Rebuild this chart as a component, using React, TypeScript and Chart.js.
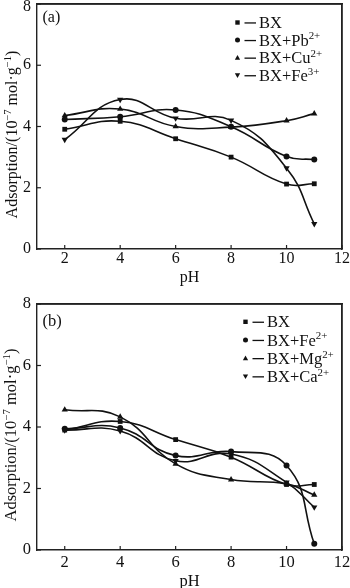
import React, { useEffect, useRef } from 'react';
import { Chart, registerables } from 'chart.js';

Chart.register(...registerables);

// ---------- data ----------
const pH = [2, 4, 6, 8, 10, 11];
const xTicks = [2, 4, 6, 8, 10, 12];
const yTicks = [0, 2, 4, 6, 8];

const aBX = [3.91, 4.17, 3.6, 3.0, 2.12, 2.13];
const aPb = [4.23, 4.32, 4.54, 3.99, 3.02, 2.92];
const aCu = [4.36, 4.57, 4.0, 3.98, 4.19, 4.42];
const aFe3 = [3.57, 4.88, 4.27, 4.2, 2.64, 0.82];

const bBX = [3.9, 4.18, 3.59, 3.02, 2.13, 2.13];
const bFe2 = [3.94, 3.97, 3.07, 3.2, 2.75, 0.2];
const bMg = [4.56, 4.33, 2.8, 2.29, 2.15, 1.79];
const bCa = [3.9, 3.87, 2.9, 3.12, 2.2, 1.39];

const aNames = [['BX', ''], ['BX+Pb', '2+'], ['BX+Cu', '2+'], ['BX+Fe', '3+']];
const bNames = [['BX', ''], ['BX+Fe', '2+'], ['BX+Mg', '2+'], ['BX+Ca', '2+']];

const markerStyles = ['rect', 'circle', 'triangle', 'triangleDown'];

const FONT = "'Liberation Serif', 'Times New Roman', serif";
const INK = '#111111';
const FRAME = '#222222';

type Geo = {
  width: number;
  height: number;
  top: number;
  bottom: number;
  left: number;
  right: number;
  fs: number;
  xLabelDy: number;
  xTitleDy: number;
  panel: string;
  panelX: number;
  panelY: number;
  titleX: number;
  titleDy: number;
  legX: number;
  legY: number;
  legStep: number;
};

const geoA: Geo = {
  width: 350, height: 290, top: 2, bottom: 249, left: 37, right: 342, fs: 16,
  xLabelDy: 10, xTitleDy: 32.5, panel: '(a)', panelX: 42.5, panelY: 17.5,
  titleX: 11.5, titleDy: 8, legX: 237.5, legY: 22.5, legStep: 17.6,
};
const geoB: Geo = {
  width: 350, height: 298, top: 14, bottom: 260, left: 37, right: 342, fs: 16.5,
  xLabelDy: 12.5, xTitleDy: 36, panel: '(b)', panelX: 42.5, panelY: 31.5,
  titleX: 11, titleDy: 8, legX: 245.5, legY: 31.8, legStep: 18.2,
};

function drawMarker(ctx: CanvasRenderingContext2D, style: string, x: number, y: number, s: number) {
  ctx.beginPath();
  if (style === 'rect') {
    ctx.rect(x - s / 2, y - s / 2, s, s);
  } else if (style === 'circle') {
    ctx.arc(x, y, s / 2 + 0.3, 0, Math.PI * 2);
  } else if (style === 'triangle') {
    ctx.moveTo(x, y - s * 0.6);
    ctx.lineTo(x + s * 0.6, y + s * 0.45);
    ctx.lineTo(x - s * 0.6, y + s * 0.45);
    ctx.closePath();
  } else {
    ctx.moveTo(x, y + s * 0.6);
    ctx.lineTo(x + s * 0.6, y - s * 0.45);
    ctx.lineTo(x - s * 0.6, y - s * 0.45);
    ctx.closePath();
  }
  ctx.fill();
}

type Part = { t: string; sup?: boolean };

function richWidth(ctx: CanvasRenderingContext2D, parts: Part[], fs: number) {
  let w = 0;
  for (const p of parts) {
    ctx.font = `${p.sup ? fs * 0.66 : fs}px ${FONT}`;
    w += ctx.measureText(p.t).width;
  }
  return w;
}

function drawRich(ctx: CanvasRenderingContext2D, parts: Part[], x: number, y: number, fs: number) {
  let cx = x;
  ctx.textAlign = 'left';
  ctx.textBaseline = 'alphabetic';
  for (const p of parts) {
    const size = p.sup ? fs * 0.66 : fs;
    ctx.font = `${size}px ${FONT}`;
    ctx.fillText(p.t, cx, p.sup ? y - fs * 0.38 : y);
    cx += ctx.measureText(p.t).width;
  }
}

function makeDecor(g: Geo, names: string[][]) {
  return {
    id: 'decor',
    afterDraw(chart: any) {
      const ctx: CanvasRenderingContext2D = chart.ctx;
      const xs = chart.scales.x;
      const ys = chart.scales.y;
      const L = xs.getPixelForValue(1);
      const R = xs.getPixelForValue(12);
      const T = ys.getPixelForValue(8);
      const B = ys.getPixelForValue(0);
      ctx.save();
      ctx.globalAlpha = 1;
      ctx.globalCompositeOperation = 'source-over';
      // frame
      ctx.strokeStyle = FRAME;
      ctx.lineWidth = 1.4;
      ctx.setLineDash([]);
      ctx.beginPath();
      ctx.moveTo(L, T); ctx.lineTo(R, T);
      ctx.moveTo(R, T); ctx.lineTo(R, B);
      ctx.stroke();
      // inward ticks
      ctx.fillStyle = FRAME;
      for (const v of xTicks) {
        const px = xs.getPixelForValue(v);
        ctx.fillRect(px - 0.6, B - 4, 1.2, 4);
      }
      for (const v of yTicks) {
        const py = ys.getPixelForValue(v);
        ctx.fillRect(L, py - 0.6, 4, 1.2);
      }

      ctx.fillStyle = INK;
      // tick labels
      ctx.font = `${g.fs}px ${FONT}`;
      ctx.textBaseline = 'middle';
      ctx.textAlign = 'center';
      for (const v of xTicks) {
        ctx.fillText(String(v), xs.getPixelForValue(v), B + g.xLabelDy);
      }
      ctx.textAlign = 'right';
      for (const v of yTicks) {
        const py = Math.max(ys.getPixelForValue(v), 6.5);
        ctx.fillText(String(v), L - 6, py);
      }
      // x title
      ctx.textAlign = 'center';
      ctx.textBaseline = 'alphabetic';
      ctx.fillText('pH', (L + R) / 2, B + g.xTitleDy);
      // y title
      const title: Part[] = [
        { t: 'Adsorption/(10' }, { t: '\u22127', sup: true }, { t: ' mol\u00b7g' }, { t: '\u22121', sup: true }, { t: ')' },
      ];
      ctx.save();
      ctx.translate(g.titleX, (T + B) / 2 + g.titleDy);
      ctx.rotate(-Math.PI / 2);
      const tw = richWidth(ctx, title, g.fs);
      drawRich(ctx, title, -tw / 2, g.fs * 0.33, g.fs);
      ctx.restore();
      // panel label
      ctx.fillStyle = INK;
      ctx.font = `${g.fs}px ${FONT}`;
      ctx.textAlign = 'left';
      ctx.textBaseline = 'middle';
      ctx.fillText(g.panel, g.panelX, g.panelY);
      // legend
      names.forEach((nm, i) => {
        const y = g.legY + i * g.legStep;
        drawMarker(ctx, markerStyles[i], g.legX, y, 4.4);
        ctx.fillRect(g.legX + 7, y - 0.2, 11.5, 1.3);
        const parts: Part[] = [{ t: nm[0] }];
        if (nm[1]) parts.push({ t: nm[1], sup: true });
        drawRich(ctx, parts, g.legX + 21.5, y + 5.6, 16.5);
      });
      ctx.restore();
    },
  };
}

function mkSet(vals: number[], i: number) {
  const style = markerStyles[i];
  return {
    data: pH.map((x, k) => ({ x, y: vals[k] })),
    borderColor: INK,
    backgroundColor: INK,
    borderWidth: 1.6,
    tension: 0.45,
    fill: false,
    pointStyle: style === 'triangleDown' ? 'triangle' : style,
    rotation: style === 'triangleDown' ? 180 : 0,
    pointRadius: style === 'circle' ? 3 : style === 'rect' ? 3.4 : 3.6,
    pointBackgroundColor: INK,
    pointBorderColor: INK,
    pointBorderWidth: 0,
  };
}

function Panel({ g, series, names }: { g: Geo; series: number[][]; names: string[][] }) {
  const ref = useRef<HTMLCanvasElement>(null);
  useEffect(() => {
    if (!ref.current) return;
    const zeroPad = (s: any) => { s.paddingLeft = 0; s.paddingRight = 0; s.paddingTop = 0; s.paddingBottom = 0; };
    const borderOpt = { display: true, color: FRAME, width: 1.4 };
    const chart = new Chart(ref.current, {
      type: 'line',
      data: { datasets: series.map((s, i) => mkSet(s, i)) as any },
      options: {
        responsive: false,
        animation: false,
        devicePixelRatio: 1,
        layout: { padding: { top: g.top, right: g.width - g.right, left: 0, bottom: 0 } },
        plugins: { legend: { display: false }, tooltip: { enabled: false } },
        scales: {
          x: {
            type: 'linear',
            position: 'bottom',
            min: 1,
            max: 12,
            grid: { display: false, drawTicks: false },
            border: borderOpt,
            ticks: { display: false },
            afterBuildTicks: (s: any) => { s.ticks = xTicks.map((v) => ({ value: v })); },
            afterFit: (s: any) => { s.height = g.height - g.bottom; zeroPad(s); },
          },
          x2: {
            type: 'linear',
            position: 'top',
            min: 1,
            max: 12,
            grid: { display: false, drawTicks: false },
            border: borderOpt,
            ticks: { display: false },
            afterFit: (s: any) => { s.height = 0; zeroPad(s); },
          },
          y: {
            type: 'linear',
            position: 'left',
            min: 0,
            max: 8,
            grid: { display: false, drawTicks: false },
            border: borderOpt,
            ticks: { display: false },
            afterBuildTicks: (s: any) => { s.ticks = yTicks.map((v) => ({ value: v })); },
            afterFit: (s: any) => { s.width = g.left; zeroPad(s); },
          },
          y2: {
            type: 'linear',
            position: 'right',
            min: 0,
            max: 8,
            grid: { display: false, drawTicks: false },
            border: borderOpt,
            ticks: { display: false },
            afterFit: (s: any) => { s.width = 0; zeroPad(s); },
          },
        },
      } as any,
      plugins: [makeDecor(g, names)],
    });
    return () => chart.destroy();
  }, []);
  return <canvas ref={ref} width={g.width} height={g.height} style={{ display: 'block', width: g.width, height: g.height }} />;
}

export default function App() {
  useEffect(() => {
    document.body.style.margin = '0';
  }, []);
  return (
    <div style={{ width: 350, height: 588, background: '#fff', overflow: 'hidden' }}>
      <Panel g={geoA} series={[aBX, aPb, aCu, aFe3]} names={aNames} />
      <Panel g={geoB} series={[bBX, bFe2, bMg, bCa]} names={bNames} />
    </div>
  );
}
